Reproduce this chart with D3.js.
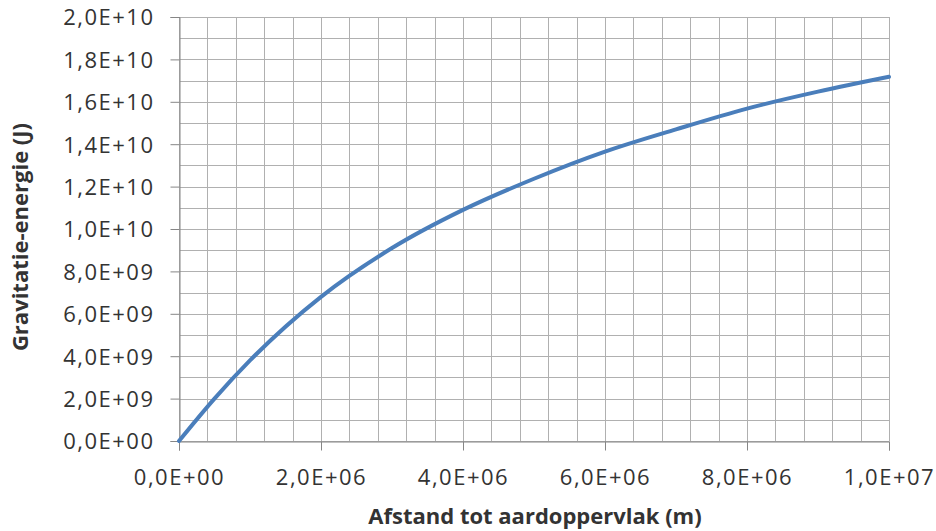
<!DOCTYPE html>
<html>
<head>
<meta charset="utf-8">
<script src="https://cdn.jsdelivr.net/npm/d3@7"></script>
<style>
  body { margin: 0; background: #fff; }
  svg text { font-family: "Open Sans", "Noto Sans", sans-serif; fill: #333; }
</style>
</head>
<body>
<main></main>
<script>
// data
const distances = [0, 5e5, 1e6, 2e6, 3e6, 4e6, 5e6, 6e6, 7e6, 8e6, 9e6, 1e7];
const energies  = [0, 2.0e9, 3.8e9, 6.8e9, 9.1e9, 1.09e10, 1.237e10, 1.365e10, 1.47e10, 1.568e10, 1.648e10, 1.718e10];

const xTicks = [0, 2e6, 4e6, 6e6, 8e6, 1e7];
const xTickLabels = ["0,0E+00", "2,0E+06", "4,0E+06", "6,0E+06", "8,0E+06", "1,0E+07"];
const yTicks = [0, 2e9, 4e9, 6e9, 8e9, 1e10, 1.2e10, 1.4e10, 1.6e10, 1.8e10, 2e10];
const yTickLabels = ["0,0E+00", "2,0E+09", "4,0E+09", "6,0E+09", "8,0E+09", "1,0E+10",
                     "1,2E+10", "1,4E+10", "1,6E+10", "1,8E+10", "2,0E+10"];

const xTitle = "Afstand tot aardoppervlak (m)";
const yTitle = "Gravitatie-energie (J)";

const svgSize = { width: 936, height: 531 };
const plot = { left: 179, right: 889, top: 17, bottom: 441 };

const svg = d3.select("main")
  .append("svg")
  .attr("width", svgSize.width)
  .attr("height", svgSize.height);

const xScale = d3.scaleLinear().domain([0, 1e7]).range([plot.left, plot.right]);
const yScale = d3.scaleLinear().domain([0, 2e10]).range([plot.bottom, plot.top]);

// gridlines (minor spacing as in the picture)
const grid = svg.append("g").attr("stroke", "#b0b0b0").attr("stroke-width", 1);
grid.selectAll(".vg")
  .data(d3.range(0, 1e7 + 1, 4e5))
  .enter().append("line")
  .attr("x1", d => Math.round(xScale(d)) + 0.5)
  .attr("x2", d => Math.round(xScale(d)) + 0.5)
  .attr("y1", plot.top).attr("y2", plot.bottom);
grid.selectAll(".hg")
  .data(d3.range(0, 2e10 + 1, 1e9))
  .enter().append("line")
  .attr("y1", d => Math.round(yScale(d)) + 0.5)
  .attr("y2", d => Math.round(yScale(d)) + 0.5)
  .attr("x1", plot.left).attr("x2", plot.right);

// axes
const xAxis = d3.axisBottom(xScale)
  .tickValues(xTicks)
  .tickSize(9)
  .tickPadding(19)
  .tickFormat((d, i) => xTickLabels[i]);
const yAxis = d3.axisLeft(yScale)
  .tickValues(yTicks)
  .tickSize(9)
  .tickPadding(16)
  .tickFormat((d, i) => yTickLabels[i]);

const gx = svg.append("g")
  .attr("transform", `translate(0, ${plot.bottom + 0.5})`)
  .call(xAxis);
const gy = svg.append("g")
  .attr("transform", `translate(${plot.left + 0.5}, 0)`)
  .call(yAxis);

[gx, gy].forEach(g => {
  g.select(".domain").attr("stroke", "#868686");
  g.selectAll(".tick line").attr("stroke", "#868686");
  g.selectAll(".tick text")
    .attr("fill", "#333")
    .style("font-size", "22px")
    .style("letter-spacing", "1.5px")
    .style("font-family", "'Open Sans', sans-serif");
});
gy.selectAll(".tick text").attr("dy", "0.36em");

// curve
const line = d3.line()
  .x((d, i) => xScale(distances[i]))
  .y(d => yScale(d))
  .curve(d3.curveMonotoneX);

svg.append("path")
  .datum(energies)
  .attr("fill", "none")
  .attr("stroke", "#4a7ebb")
  .attr("stroke-width", 4)
  .attr("stroke-linecap", "round")
  .attr("d", line);

// axis titles
svg.append("text")
  .attr("x", 535)
  .attr("y", 524)
  .attr("text-anchor", "middle")
  .style("font-size", "22px")
  .style("font-weight", "bold")
  .text(xTitle);

svg.append("text")
  .attr("transform", `translate(28, 237) rotate(-90)`)
  .attr("text-anchor", "middle")
  .style("font-size", "22px")
  .style("font-weight", "bold")
  .text(yTitle);
</script>
</body>
</html>
